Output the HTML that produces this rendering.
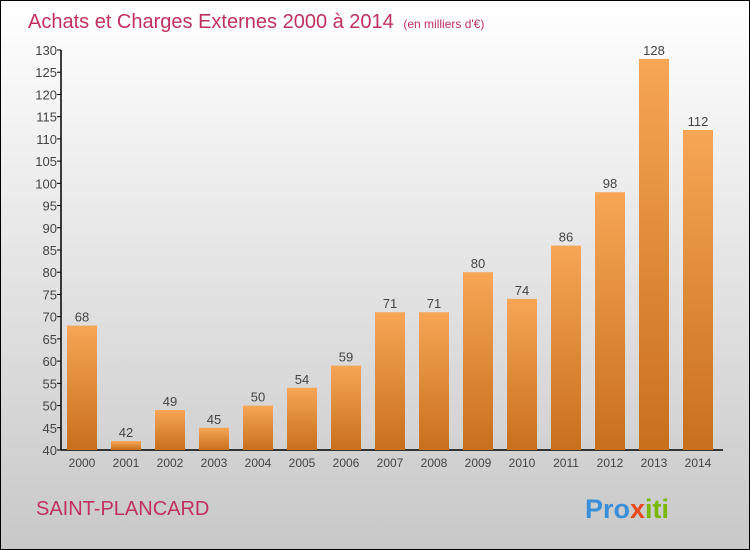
<!DOCTYPE html>
<html><head><meta charset="utf-8"><style>
body{margin:0}
#wrap{position:relative;width:748px;height:548px;border:1px solid #000;background:linear-gradient(#ffffff,#c8c8c8);overflow:hidden;font-family:"Liberation Sans",sans-serif}
</style></head><body>
<div id="wrap">
<svg id="svg" width="748" height="548" xmlns="http://www.w3.org/2000/svg">
<defs><linearGradient id="bg" x1="0" y1="0" x2="0" y2="1"><stop offset="0" stop-color="#f7a655"/><stop offset="1" stop-color="#c86f1c"/></linearGradient></defs>
<text x="27" y="27" font-size="20" fill="#c0315e">Achats et Charges Externes 2000 à 2014 <tspan font-size="12" dx="4">(en milliers d'€)</tspan></text>
<text x="35" y="514" font-size="20" fill="#c0315e">SAINT-PLANCARD</text>
<text x="584" y="517" font-size="27" font-weight="bold" fill="#3a8fd8">Pro<tspan fill="#e84b1a">x</tspan><tspan fill="#7ab800">iti</tspan></text>
<g id="g"></g>
</svg>
</div>
<script>
const years=["2000","2001","2002","2003","2004","2005","2006","2007","2008","2009","2010","2011","2012","2013","2014"];
const values=[68,42,49,45,50,54,59,71,71,80,74,86,98,128,112];
const ticks=[40,45,50,55,60,65,70,75,80,85,90,95,100,105,110,115,120,125,130];
const y=v=>449-(v-40)*400/90;
const x=i=>81+i*44;
const g=document.getElementById('g');
const NS="http://www.w3.org/2000/svg";
function mk(t,a){const e=document.createElementNS(NS,t);for(const k in a)e.setAttribute(k,a[k]);g.appendChild(e);return e;}
let ax=mk('line',{x1:60,y1:y(130),x2:60,y2:449,stroke:'#000','stroke-width':1.5});


let bx=mk('line',{x1:60,y1:449,x2:722,y2:449,stroke:'#000','stroke-width':1.5});


ticks.forEach(t=>{
 let l=mk('line',{x1:56,x2:60,y1:y(t),y2:y(t),stroke:'#000'});
 
 
 let tx=mk('text',{x:56,y:y(t)+5,'font-size':13,'text-anchor':'end',fill:'#444'});
 tx.textContent=t;
 
 
});
years.forEach((yr,i)=>{
 const v=values[i];
 let r=mk('rect',{x:x(i)-15,y:y(v),width:30,height:449-y(v),fill:'url(#bg)'});
 
 
 let lb=mk('text',{x:x(i),y:y(v)-4,'font-size':13,'text-anchor':'middle',fill:'#444'});
 lb.textContent=v;
 
 
 let xt=mk('text',{x:x(i),y:466,'font-size':12,'text-anchor':'middle',fill:'#444'});
 xt.textContent=yr;
 
 
});
</script>
</body></html>
